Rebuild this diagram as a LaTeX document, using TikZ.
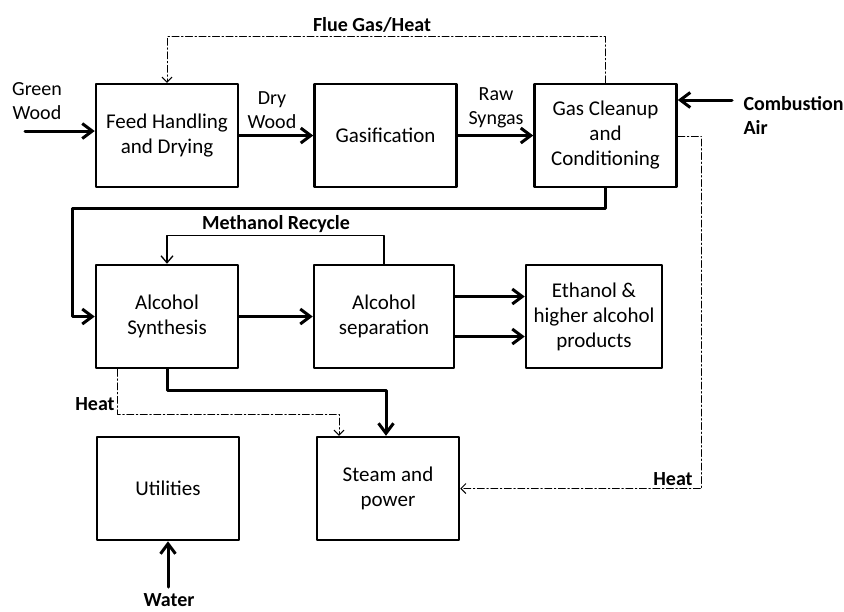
\documentclass[tikz,border=0pt]{standalone}
\usepackage{fontspec}
\setmainfont{Carlito}
\usetikzlibrary{arrows.meta}

\begin{document}
\begin{tikzpicture}[x=1pt,y=-1pt,line cap=round,line join=round,
  unit/.style={draw,line width=2.5pt,minimum width=142pt,minimum height=103pt,align=center,font=\fontsize{21}{25}\selectfont},
  lbl/.style={align=center,font=\fontsize{20}{24}\selectfont},
  blbl/.style={align=center,font=\fontsize{20}{24}\selectfont\bfseries},
  flow/.style={line width=3pt,-{Straight Barb[length=10pt,width=15pt]}},
  recycle/.style={line width=1.3pt,-{Straight Barb[length=7pt,width=12pt]}},
  heat/.style={line width=1pt,dash pattern=on 7pt off 2.5pt on 1.5pt off 2.5pt,-{Straight Barb[length=5pt,width=10pt]}}]
  \useasboundingbox (0,0) rectangle (844,611);
  \node[unit] (feed) at (167,135.5) {Feed Handling\\and Drying};
  \node[unit] (gasif) at (385.5,135.5) {Gasification};
  \node[unit] (cleanup) at (605.5,135.5) {Gas Cleanup\\and\\Conditioning};
  \node[unit] (synth) at (167,316.5) {Alcohol\\Synthesis};
  \node[unit,minimum width=140pt] (sep) at (384,316.5) {Alcohol\\separation};
  \node[unit,minimum width=136pt] (ethanol) at (594,316.5) {Ethanol \&\\higher alcohol\\products};
  \node[unit] (utilities) at (168,488.5) {Utilities};
  \node[unit] (steam) at (388,488.5) {Steam and\\power};
  \coordinate (gw) at (25,131);
  \coordinate (air) at (732,100);
  \coordinate (sgbend) at (72,208);
  \coordinate (water) at (168,587);
  \node[lbl] (gwlbl) at (37,101) {Green\\Wood};
  \node[lbl] (drylbl) at (272,110) {Dry\\Wood};
  \node[lbl] (rawlbl) at (496,108) {Raw\\Syngas};
  \node[blbl,anchor=west,align=left] (airlbl) at (740,115) {Combustion\\Air};
  \node[blbl] (fluelbl) at (372,25) {Flue Gas/Heat};
  \node[blbl] (mrlbl) at (276,224) {Methanol Recycle};
  \node[blbl] (heatl) at (95,404) {Heat};
  \node[blbl] (heatr) at (673,479) {Heat};
  \node[blbl] (waterlbl) at (169,600) {Water};
  \draw[flow] (gw) -- (gw -| feed.west);
  \draw[flow] (feed.east) -- (gasif.west);
  \draw[flow] (gasif.east) -- (cleanup.west);
  \draw[flow] (air) -- (air -| cleanup.east);
  \draw[heat] (cleanup.north) -- ++(0,-46) -| (feed.north);
  \draw[flow] (cleanup.south) |- (sgbend) |- (synth.west);
  \draw[recycle] (sep.north) -- ++(0,-28) -| (synth.north);
  \draw[flow] (synth.east) -- (sep.west);
  \draw[flow] ([yshift=20pt]sep.east) -- ([yshift=20pt]ethanol.west);
  \draw[flow] ([yshift=-20pt]sep.east) -- ([yshift=-20pt]ethanol.west);
  \draw[flow] (synth.south) -- ++(0,21) -| ([xshift=-2pt]steam.north);
  \draw[heat] ([xshift=23pt]synth.south west) -- ++(0,45) -| ([xshift=-49pt]steam.north);
  \draw[heat] ([yshift=-0.5pt]cleanup.east) -- ++(24,0) |- (steam.east);
  \draw[flow] (water) -- (utilities.south);
\end{tikzpicture}
\end{document}
